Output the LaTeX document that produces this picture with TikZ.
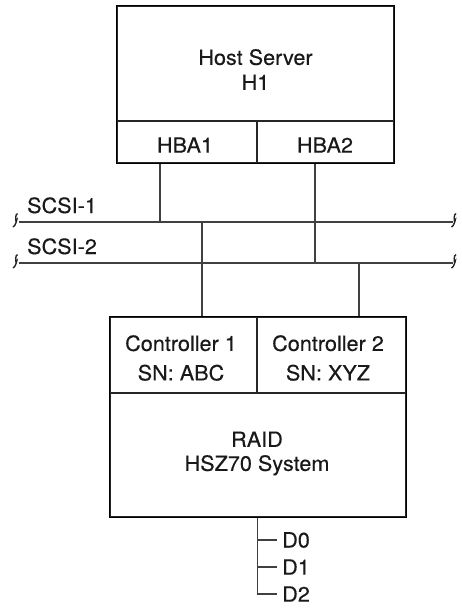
\documentclass[tikz,border=0pt]{standalone}
\usepackage{fontspec}
\setmainfont{TeX Gyre Heros}[FakeStretch=1.03,FakeBold=0.3]
\begin{document}
\begin{tikzpicture}[x=1pt,y=-1pt,
  inner/.style={draw=black!85,line width=1.1pt,minimum width=#1,inner sep=0pt},
  frame/.style={draw=black,line width=1.8pt},
  txt/.style={font=\fontsize{21}{25}\selectfont,align=center,inner sep=0pt,text=black!90},
  wire/.style={draw=black!75,line width=1.2pt},
  squig/.style={draw=black!85,line width=1.4pt}]
\useasboundingbox (0,0) rectangle (462,614);
% Host server
\node[inner=277pt,minimum height=115pt] (host) at (255.5,63.5) {};
\node[inner=140pt,minimum height=42pt] (hba1) at (187,142) {};
\node[inner=137pt,minimum height=42pt] (hba2) at (325.5,142) {};
\draw[frame] (host.north west) rectangle (hba2.south east);
\node[txt] (hosttxt) at (255.5,69.5) {Host Server\\H1};
\node[txt] (hba1txt) at (185,145) {HBA1};
\node[txt] (hba2txt) at (325,145) {HBA2};
% RAID
\node[inner=147pt,minimum height=76pt] (ctrl1) at (183.5,355) {};
\node[inner=149pt,minimum height=76pt] (ctrl2) at (331.5,355) {};
\node[inner=296pt,minimum height=124pt] (raid) at (258,455) {};
\draw[frame] (ctrl1.north west) rectangle (raid.south east);
\node[txt,font=\fontsize{21}{29.5}\selectfont] (c1txt) at (181,358) {Controller 1\\SN: ABC};
\node[txt,font=\fontsize{21}{29.5}\selectfont] (c2txt) at (328,358) {Controller 2\\SN: XYZ};
\node[txt,font=\fontsize{21}{24}\selectfont] (raidtxt) at (257,453.5) {RAID\\HSZ70 System};
% buses
\coordinate (s1l) at (19,222);
\coordinate (s1r) at (453,222);
\coordinate (s2l) at (19,263);
\coordinate (s2r) at (453,263);
\draw[wire] (s1l) -- (s1r);
\draw[wire] (s2l) -- (s2r);
\foreach \p in {s1l,s2l}{
  \draw[squig] ([xshift=-6pt,yshift=-5pt]\p) .. controls ++(3,-1) and ++(1,-3) .. ([xshift=-2.5pt,yshift=2pt]\p)
     .. controls ++(-1,3) and ++(-2.5,0) .. ([xshift=-1.5pt,yshift=8.5pt]\p);
}
\foreach \p in {s1r,s2r}{
  \draw[squig] ([xshift=-1.5pt,yshift=-5pt]\p) .. controls ++(3,-1) and ++(1,-3) .. ([xshift=2pt,yshift=2pt]\p)
     .. controls ++(-1,3) and ++(-2.5,0) .. ([xshift=3pt,yshift=8.5pt]\p);
}
\node[txt,anchor=base west] (scsi1) at (27,213) {SCSI-1};
\node[txt,anchor=base west] (scsi2) at (27,254) {SCSI-2};
% drops
\coordinate (j1) at (160,222);
\coordinate (j2) at (315,263);
\coordinate (j3) at (202,222);
\coordinate (j4) at (359,263);
\draw[wire] (hba1.south -| j1) -- (j1);
\draw[wire] (hba2.south -| j2) -- (j2);
\draw[wire] (j3) -- (ctrl1.north -| j3);
\draw[wire] (j4) -- (ctrl2.north -| j4);
% disks
\coordinate (dtop) at (257.5,517);
\coordinate (dc) at (257.5,594);
\node[txt,anchor=west] (d0) at (282,540) {D0};
\node[txt,anchor=west] (d1) at (282,567) {D1};
\node[txt,anchor=west] (d2) at (282,594) {D2};
\draw[wire] (raid.south -| dtop) -- (dc) -- ([xshift=-5pt]d2.west);
\draw[wire] (d0.west -| dtop) -- ([xshift=-5pt]d0.west);
\draw[wire] (d1.west -| dtop) -- ([xshift=-5pt]d1.west);
\end{tikzpicture}
\end{document}
